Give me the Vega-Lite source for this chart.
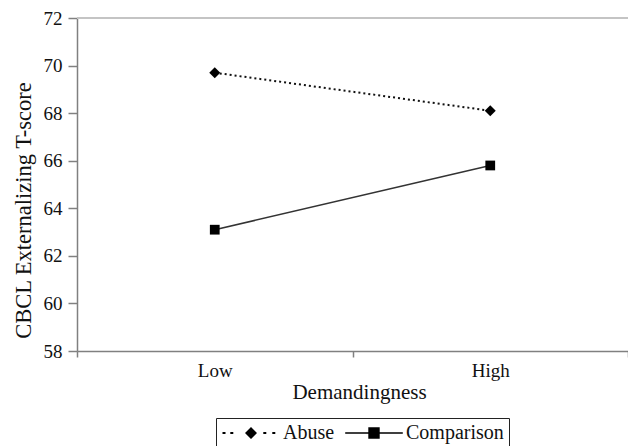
{
  "$schema": "https://vega.github.io/schema/vega-lite/v6.json",
  "autosize": {"type": "none"},
  "width": 551,
  "height": 333,
  "padding": {"left": 77, "top": 18, "right": 0, "bottom": 95},
  "background": "white",
  "config": {
    "view": {"stroke": null},
    "font": "Liberation Serif",
    "axis": {
      "labelFont": "Liberation Serif",
      "titleFont": "Liberation Serif",
      "labelColor": "#111",
      "titleColor": "#111",
      "titleFontWeight": "normal",
      "domainColor": "#808080",
      "tickColor": "#808080",
      "domainWidth": 1.5,
      "tickWidth": 1.5,
      "grid": false
    },
    "legend": {"labelFont": "Liberation Serif"}
  },
  "data": {
    "values": [
      {"group": "Abuse", "demand": "Low", "score": 69.7},
      {"group": "Abuse", "demand": "High", "score": 68.1},
      {"group": "Comparison", "demand": "Low", "score": 63.1},
      {"group": "Comparison", "demand": "High", "score": 65.8}
    ]
  },
  "encoding": {
    "x": {
      "field": "demand",
      "type": "nominal",
      "sort": ["Low", "High"],
      "scale": {"type": "band", "paddingInner": 0, "paddingOuter": -0.02},
      "axis": {
        "title": "Demandingness",
        "labelAngle": 0,
        "labelFont": "Liberation Serif",
        "titleFont": "Liberation Serif",
        "labelFontSize": 19,
        "titleFontSize": 21,
        "tickSize": 6,
        "labelPadding": 4,
        "tickBand": "extent",
        "titleX": 282,
        "titleY": 41,
        "titleBaseline": "middle"
      }
    },
    "y": {
      "field": "score",
      "type": "quantitative",
      "scale": {"domain": [58, 72], "nice": false, "zero": false},
      "axis": {
        "title": "CBCL Externalizing T-score",
        "values": [58, 60, 62, 64, 66, 68, 70, 72],
        "labelFont": "Liberation Serif",
        "titleFont": "Liberation Serif",
        "labelFontSize": 19,
        "titleFontSize": 22.5,
        "tickSize": 9,
        "labelPadding": 6,
        "titleX": -54,
        "titleY": 192,
        "titleBaseline": "middle",
        "titleAngle": -90
      }
    }
  },
  "layer": [
    {
      "mark": {"type": "rule", "color": "#c4c4c4", "strokeWidth": 2},
      "encoding": {"y": {"datum": 72}, "x": null}
    },
    {
      "transform": [{"filter": "datum.group == 'Abuse'"}],
      "mark": {"type": "line", "color": "#111", "strokeWidth": 2, "strokeDash": [2, 3]}
    },
    {
      "transform": [{"filter": "datum.group == 'Comparison'"}],
      "mark": {"type": "line", "color": "#333", "strokeWidth": 1.6}
    },
    {
      "transform": [{"filter": "datum.group == 'Abuse'"}],
      "mark": {"type": "point", "shape": "diamond", "filled": true, "color": "black", "opacity": 1, "size": 120}
    },
    {
      "transform": [{"filter": "datum.group == 'Comparison'"}],
      "mark": {"type": "point", "shape": "square", "filled": true, "color": "black", "opacity": 1, "size": 95}
    },
    {
      "transform": [{"filter": "datum.group == 'none'"}],
      "mark": {"type": "point", "filled": true, "color": "black", "opacity": 1},
      "encoding": {
        "shape": {
          "field": "group",
          "type": "nominal",
          "scale": {
            "domain": ["Abuse", "Comparison"],
            "range": [
              "M-4.75,-0.17H-4.25V0.17H-4.75ZM-3.45,-0.17H-2.95V0.17H-3.45ZM2.05,-0.17H2.55V0.17H2.05ZM3.55,-0.17H4.05V0.17H3.55ZM-1,0L0,-1L1,0L0,1Z",
              "M-4.8,-0.12H4.8V0.12H-4.8ZM-0.95,-0.95H0.95V0.95H-0.95Z"
            ]
          },
          "legend": {
            "title": null,
            "orient": "none",
            "legendX": 139,
            "legendY": 400,
            "direction": "horizontal",
            "columns": 2,
            "strokeColor": "#222",
            "padding": 5,
            "symbolSize": 144,
            "symbolStrokeWidth": 0,
            "symbolOffset": 20,
            "labelOffset": 22,
            "columnPadding": 9,
            "labelFont": "Liberation Serif",
            "labelFontSize": 20,
            "labelColor": "#111",
            "symbolFillColor": "black"
          }
        }
      }
    }
  ]
}
